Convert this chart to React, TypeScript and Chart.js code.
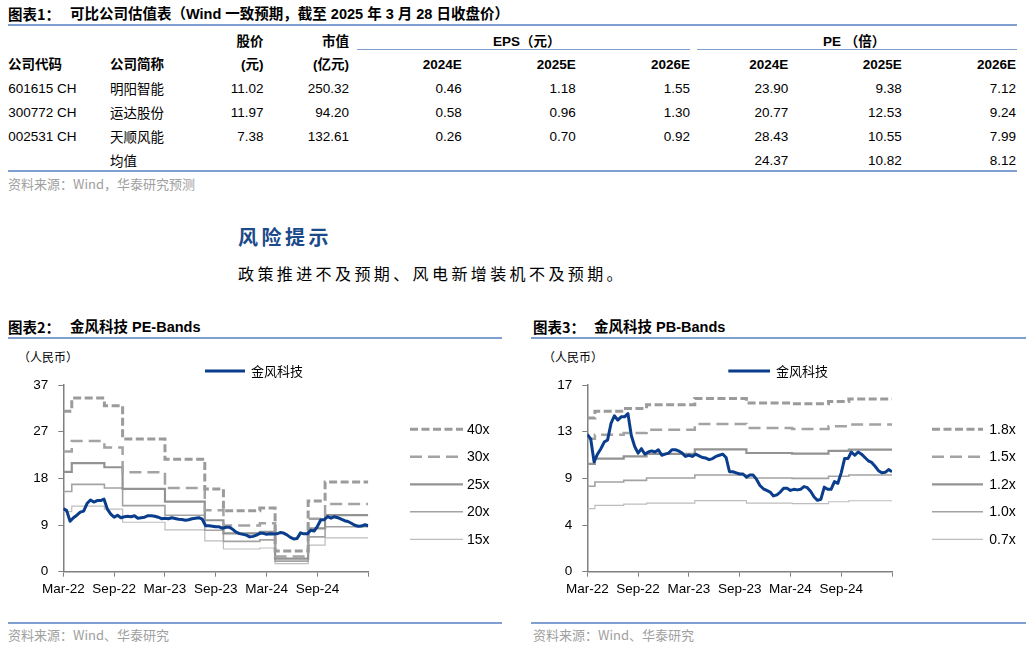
import React, { useEffect, useRef } from 'react';
import { Chart, registerables } from 'chart.js';

Chart.register(...registerables);

const LATIN = '"Liberation Sans", Arial, "Noto Sans CJK SC", sans-serif';
const CJK = '"Noto Sans CJK SC", "Liberation Sans", sans-serif';

// ---------------- Table data ----------------
const CODES = ['601615 CH', '300772 CH', '002531 CH'];
const NAMES = ['明阳智能', '运达股份', '天顺风能', '均值'];
const PRICES = ['11.02', '11.97', '7.38'];
const MKT_CAPS = ['250.32', '94.20', '132.61'];
const EPS_2024E = ['0.46', '0.58', '0.26'];
const EPS_2025E = ['1.18', '0.96', '0.70'];
const EPS_2026E = ['1.55', '1.30', '0.92'];
const PE_2024E = ['23.90', '20.77', '28.43', '24.37'];
const PE_2025E = ['9.38', '12.53', '10.55', '10.82'];
const PE_2026E = ['7.12', '9.24', '7.99', '8.12'];
const YEAR_HEADERS = ['2024E', '2025E', '2026E'];

// ---------------- Chart data ----------------
const X_LABELS = ['Mar-22', 'Sep-22', 'Mar-23', 'Sep-23', 'Mar-24', 'Sep-24', ''];
const X_MAX_MONTHS = 36;
const X_TICK_STEP = 6;
const PE_Y_MAX = 37;
const PE_Y_LABELS = ['0', '9', '18', '27', '37'];
const PB_Y_MAX = 17;
const PB_Y_LABELS = ['0', '4', '9', '13', '17'];
const SERIES_NAME = '金风科技';

// closing price (RMB), one reading every 0.4 month from Mar-22
const PRICE_INTERVAL_MONTHS = 0.4;
const PRICE = [
  12.5, 12.1, 10.0, 10.7, 11.2, 11.8, 12.0, 13.5, 14.2, 13.8,
  14.1, 14.1, 14.4, 12.4, 11.4, 10.8, 11.2, 10.7, 10.9, 11.0,
  10.9, 11.1, 10.6, 10.7, 10.8, 11.1, 11.1, 11.0, 10.8, 10.5,
  10.6, 10.5, 10.7, 10.55, 10.4, 10.35, 10.2, 10.3, 10.5, 10.6,
  10.7, 10.4, 9.1, 9.1, 9.0, 8.9, 8.9, 8.6, 8.8, 8.8,
  8.4, 7.85, 7.55, 7.4, 7.25, 6.9, 7.0, 7.25, 7.6, 7.6,
  7.4, 7.5, 7.45, 7.5, 7.75, 7.65, 7.3, 6.8, 6.5, 6.6,
  7.7, 7.5, 7.5, 8.2, 8.05, 9.0, 10.3, 10.3, 10.9, 10.6,
  10.9, 10.7, 10.4, 10.1, 9.95, 9.6, 9.2, 9.0, 9.05, 9.3,
  9.1,
];

// PE bands: months (from Mar-22) where each band level starts, and the level
const PE_BAND_LABELS = ['40x', '30x', '25x', '20x', '15x'];
const PE_BREAKS = [0, 1.0, 4.85, 7.0, 12.0, 16.7, 18.9, 23.2, 25.0, 28.9, 30.9];
const PE_40X = [31.8, 34.4, 32.9, 26.3, 22.3, 16.4, 12.1, 12.6, 4.1, 14.0, 17.8];
const PE_30X = [23.8, 25.9, 24.6, 19.7, 16.6, 12.2, 9.15, 9.6, 3.0, 10.5, 13.4];
const PE_25X = [19.8, 21.5, 20.7, 16.4, 13.9, 10.2, 7.6, 7.9, 2.6, 8.6, 11.2];
const PE_20X = [15.9, 17.3, 16.6, 13.1, 11.2, 8.2, 6.0, 6.3, 2.1, 6.9, 8.9];
const PE_15X = [11.9, 13.0, 12.4, 9.8, 8.3, 6.1, 4.5, 4.7, 1.6, 5.25, 6.7];

// PB bands
const PB_BAND_LABELS = ['1.8x', '1.5x', '1.2x', '1.0x', '0.7x'];
const PB_BREAKS = [0, 0.9, 4.3, 7.0, 12.7, 18.8, 24.2, 28.5, 30.9];
const PB_18X = [14.0, 14.6, 14.85, 15.2, 15.76, 15.36, 15.3, 15.5, 15.73];
const PB_15X = [12.1, 12.48, 12.63, 12.93, 13.45, 13.09, 13.0, 13.24, 13.4];
const PB_12X = [9.81, 10.3, 10.5, 10.72, 11.14, 10.81, 10.75, 11.0, 11.12];
const PB_10X = [7.78, 8.17, 8.32, 8.53, 8.8, 8.53, 8.5, 8.69, 8.8];
const PB_07X = [5.74, 6.04, 6.16, 6.25, 6.47, 6.25, 6.19, 6.37, 6.46];

// ---------------- styles ----------------
const PRICE_STYLE = { color: '#0a3d8c', width: 3 };
const BAND_STYLES = [
  { color: '#9b9b9b', width: 3, dash: [8, 3.5] },
  { color: '#a3a3a3', width: 2.5, dash: [12, 6] },
  { color: '#939393', width: 2.2, dash: [] as number[] },
  { color: '#a3a3a3', width: 1.6, dash: [] as number[] },
  { color: '#bdbdbd', width: 1.2, dash: [] as number[] },
];
const RULE = '#7f9fd0';
const AXIS = '#808080';

const legendPlugin = {
  id: 'bandLegend',
  afterDraw(chart: any, _args: any, opts: any) {
    const ctx = chart.ctx as CanvasRenderingContext2D;
    chart.data.datasets.forEach((ds: any, i: number) => {
      const it = i === 0 ? opts.price : { x1: opts.x1, x2: opts.x2, tx: opts.tx, y: opts.ys[i - 1] };
      ctx.save();
      ctx.strokeStyle = ds.borderColor;
      ctx.lineWidth = ds.borderWidth;
      ctx.setLineDash(ds.borderDash || []);
      ctx.beginPath();
      ctx.moveTo(it.x1, it.y);
      ctx.lineTo(it.x2, it.y);
      ctx.stroke();
      ctx.setLineDash([]);
      ctx.fillStyle = '#000';
      ctx.textBaseline = 'middle';
      ctx.font = i === 0 ? opts.priceFont : opts.font;
      ctx.fillText(ds.label, it.tx, it.y + 0.5);
      ctx.restore();
    });
  },
};

type Area = { left: number; top: number; right: number; bottom: number };

function BandChart(props: {
  left: number; top: number; width: number; height: number; area: Area;
  yMax: number; yLabels: string[]; bandLabels: string[]; breaks: number[]; bands: number[][];
  legend: any;
}) {
  const ref = useRef<HTMLCanvasElement>(null);
  useEffect(() => {
    const { width, height, area, yMax, yLabels, bandLabels, breaks, bands, legend } = props;
    const pricePts = PRICE.map((v, i) => ({ x: i * PRICE_INTERVAL_MONTHS, y: v }));
    const datasets: any[] = [
      {
        label: SERIES_NAME, data: pricePts, borderColor: PRICE_STYLE.color, borderWidth: PRICE_STYLE.width,
        pointRadius: 0, tension: 0, borderJoinStyle: 'round',
      },
      ...bands.map((vals, k) => ({
        label: bandLabels[k],
        data: [...breaks.map((b, i) => ({ x: b, y: vals[i] })), { x: X_MAX_MONTHS, y: vals[vals.length - 1] }],
        stepped: 'before',
        borderColor: BAND_STYLES[k].color,
        borderWidth: BAND_STYLES[k].width,
        borderDash: BAND_STYLES[k].dash,
        pointRadius: 0,
      })),
    ];
    const tickFont = { family: LATIN, size: 13.5 };
    const chart = new Chart(ref.current!, {
      type: 'line',
      data: { datasets },
      options: {
        animation: false,
        responsive: false,
        devicePixelRatio: 1,
        layout: { padding: { left: 0, top: area.top, right: width - area.right, bottom: 0 } },
        plugins: {
          legend: { display: false },
          tooltip: { enabled: false },
          title: { display: false },
          bandLegend: legend,
        } as any,
        scales: {
          x: {
            type: 'linear', min: 0, max: X_MAX_MONTHS,
            afterFit: (s: any) => { s.height = height - area.bottom; },
            ticks: {
              stepSize: X_TICK_STEP, autoSkip: false, maxRotation: 0, padding: 4, color: '#000', font: tickFont,
              callback: (_v: any, i: number) => X_LABELS[i],
            },
            grid: { display: true, drawOnChartArea: false, drawTicks: true, tickLength: 5, color: AXIS, lineWidth: 1 },
            border: { display: true, color: AXIS, width: 1.5 },
          },
          y: {
            type: 'linear', min: 0, max: yMax,
            afterFit: (s: any) => { s.width = area.left; },
            ticks: {
              stepSize: yMax / 4, color: '#000', font: tickFont, padding: 10,
              callback: (_v: any, i: number) => yLabels[i],
            },
            grid: { display: true, drawOnChartArea: false, drawTicks: true, tickLength: 5, color: AXIS, lineWidth: 1 },
            border: { display: true, color: AXIS, width: 1.5 },
          },
        } as any,
      },
      plugins: [legendPlugin as any],
    });
    return () => chart.destroy();
  }, []);
  return (
    <canvas
      ref={ref}
      width={props.width}
      height={props.height}
      style={{ position: 'absolute', left: props.left, top: props.top, width: props.width, height: props.height }}
    />
  );
}

function Txt(p: {
  x?: number; rx?: number; cy: number; size?: number; bold?: boolean; color?: string; font?: string;
  ls?: number; children: React.ReactNode;
}) {
  const size = p.size ?? 13.5;
  const lh = Math.round(size * 1.4);
  const style: React.CSSProperties = {
    position: 'absolute', top: p.cy - lh / 2, height: lh, lineHeight: lh + 'px', fontSize: size,
    fontWeight: p.bold ? 700 : 400, color: p.color ?? '#000', fontFamily: p.font ?? LATIN,
    whiteSpace: 'nowrap', letterSpacing: p.ls,
  };
  if (p.rx !== undefined) {
    style.left = p.rx - 400; style.width = 400; style.textAlign = 'right';
  } else {
    style.left = p.x;
  }
  return <div style={style}>{p.children}</div>;
}

function Rule(p: { x1: number; x2: number; y: number; h?: number }) {
  const h = p.h ?? 2;
  return <div style={{ position: 'absolute', left: p.x1, top: p.y - h / 2, width: p.x2 - p.x1, height: h, background: RULE }} />;
}

const ROW_Y = [88.5, 112.3, 136.4, 160.3];

export default function App() {
  return (
    <div style={{ position: 'absolute', left: 0, top: 0, width: 1032, height: 647, background: '#fff', overflow: 'hidden', fontFamily: LATIN }}>
      {/* ---------- Table 1 ---------- */}
      <Txt x={8} cy={13.5} size={14.5} bold font={CJK}>图表1：</Txt>
      <Txt x={70} cy={13.5} size={14.5} bold>可比公司估值表（Wind 一致预期，截至 2025 年 3 月 28 日收盘价）</Txt>
      <Rule x1={8} x2={1017} y={24.5} />

      <Txt rx={263.5} cy={41} bold>股价</Txt>
      <Txt rx={349} cy={41} bold>市值</Txt>
      <Txt x={493} cy={41} bold>EPS（元）</Txt>
      <Txt x={823} cy={41} bold>PE （倍）</Txt>
      <Rule x1={357} x2={690} y={49.5} h={1.5} />
      <Rule x1={697} x2={1017} y={49.5} h={1.5} />

      <Txt x={8} cy={64.3} bold>公司代码</Txt>
      <Txt x={110} cy={64.3} bold>公司简称</Txt>
      <Txt rx={263.5} cy={64.3} bold>(元)</Txt>
      <Txt rx={349} cy={64.3} bold>(亿元)</Txt>
      {YEAR_HEADERS.map((h, i) => (
        <Txt key={'e' + h} rx={[461.7, 575.7, 690][i]} cy={64.3} bold>{h}</Txt>
      ))}
      {YEAR_HEADERS.map((h, i) => (
        <Txt key={'p' + h} rx={[788.3, 901.7, 1016][i]} cy={64.3} bold>{h}</Txt>
      ))}

      {CODES.map((c, i) => <Txt key={'c' + i} x={8.3} cy={ROW_Y[i]}>{c}</Txt>)}
      {NAMES.map((n, i) => <Txt key={'n' + i} x={110} cy={ROW_Y[i]} font={CJK}>{n}</Txt>)}
      {PRICES.map((v, i) => <Txt key={'pr' + i} rx={263.5} cy={ROW_Y[i]}>{v}</Txt>)}
      {MKT_CAPS.map((v, i) => <Txt key={'mc' + i} rx={349} cy={ROW_Y[i]}>{v}</Txt>)}
      {EPS_2024E.map((v, i) => <Txt key={'e4' + i} rx={461.7} cy={ROW_Y[i]}>{v}</Txt>)}
      {EPS_2025E.map((v, i) => <Txt key={'e5' + i} rx={575.7} cy={ROW_Y[i]}>{v}</Txt>)}
      {EPS_2026E.map((v, i) => <Txt key={'e6' + i} rx={690} cy={ROW_Y[i]}>{v}</Txt>)}
      {PE_2024E.map((v, i) => <Txt key={'p4' + i} rx={788.3} cy={ROW_Y[i]}>{v}</Txt>)}
      {PE_2025E.map((v, i) => <Txt key={'p5' + i} rx={901.7} cy={ROW_Y[i]}>{v}</Txt>)}
      {PE_2026E.map((v, i) => <Txt key={'p6' + i} rx={1016} cy={ROW_Y[i]}>{v}</Txt>)}
      <Rule x1={8} x2={1017} y={170.7} />
      <Txt x={8} cy={183.5} size={13} color="#a0a0a0" font={CJK}>资料来源：Wind，华泰研究预测</Txt>

      {/* ---------- Risk ---------- */}
      <Txt x={238} cy={236.5} size={20} bold color="#1b4a8a" font={CJK} ls={3.5}>风险提示</Txt>
      <Txt x={238} cy={273} size={16} font={CJK} ls={3.4}>政策推进不及预期、风电新增装机不及预期。</Txt>

      {/* ---------- Chart 2 ---------- */}
      <Txt x={8} cy={327.3} size={14.5} bold font={CJK}>图表2：</Txt>
      <Txt x={70} cy={327.3} size={14.5} bold>金风科技 PE-Bands</Txt>
      <Rule x1={8} x2={502} y={338.3} />
      <Txt x={18} cy={356} size={12} font={CJK}>（人民币）</Txt>
      <BandChart
        left={0} top={340} width={510} height={270}
        area={{ left: 63.3, top: 45, right: 368.3, bottom: 231.7 }}
        yMax={PE_Y_MAX} yLabels={PE_Y_LABELS} bandLabels={PE_BAND_LABELS}
        breaks={PE_BREAKS} bands={[PE_40X, PE_30X, PE_25X, PE_20X, PE_15X]}
        legend={{
          price: { x1: 205, x2: 245, tx: 251, y: 31 },
          x1: 410, x2: 463, tx: 467, ys: [89.3, 116.7, 144.3, 171.7, 199.3],
          font: '14px "Liberation Sans", Arial, sans-serif',
          priceFont: '13px "Noto Sans CJK SC", sans-serif',
        }}
      />
      <Rule x1={8} x2={502} y={623.3} />
      <Txt x={8} cy={635} size={13} color="#a0a0a0" font={CJK}>资料来源：Wind、华泰研究</Txt>

      {/* ---------- Chart 3 ---------- */}
      <Txt x={533} cy={327.3} size={14.5} bold font={CJK}>图表3：</Txt>
      <Txt x={594} cy={327.3} size={14.5} bold>金风科技 PB-Bands</Txt>
      <Rule x1={531} x2={1026} y={338.3} />
      <Txt x={543} cy={356} size={12} font={CJK}>（人民币）</Txt>
      <BandChart
        left={520} top={340} width={512} height={270}
        area={{ left: 67.3, top: 45, right: 372, bottom: 231.7 }}
        yMax={PB_Y_MAX} yLabels={PB_Y_LABELS} bandLabels={PB_BAND_LABELS}
        breaks={PB_BREAKS} bands={[PB_18X, PB_15X, PB_12X, PB_10X, PB_07X]}
        legend={{
          price: { x1: 208.3, x2: 250, tx: 256, y: 31 },
          x1: 412, x2: 463, tx: 469.3, ys: [89.3, 116.7, 144.3, 171.7, 199.3],
          font: '14px "Liberation Sans", Arial, sans-serif',
          priceFont: '13px "Noto Sans CJK SC", sans-serif',
        }}
      />
      <Rule x1={531} x2={1026} y={623.3} />
      <Txt x={533} cy={635} size={13} color="#a0a0a0" font={CJK}>资料来源：Wind、华泰研究</Txt>
    </div>
  );
}
